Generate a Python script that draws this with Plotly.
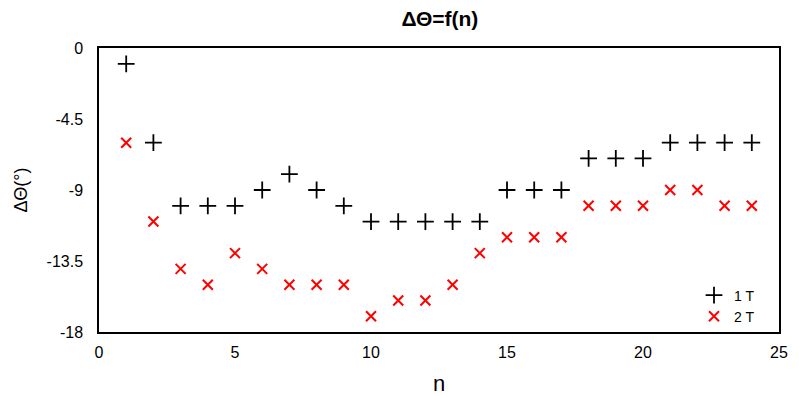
import plotly.graph_objects as go

n = list(range(1, 25))
t1 = [-1, -6, -10, -10, -10, -9, -8, -9, -10, -11, -11, -11, -11, -11,
      -9, -9, -9, -7, -7, -7, -6, -6, -6, -6]
t2 = [-6, -11, -14, -15, -13, -14, -15, -15, -15, -17, -16, -16, -15, -13,
      -12, -12, -12, -10, -10, -10, -9, -9, -10, -10]

fig = go.Figure()
fig.add_trace(go.Scatter(
    x=n, y=t1, mode='markers', name='1 T',
    marker=dict(symbol='cross-thin', size=12, line=dict(color='black', width=1.8))
))
fig.add_trace(go.Scatter(
    x=n, y=t2, mode='markers', name='2 T',
    marker=dict(symbol='x-thin', size=10, line=dict(color='#ff0000', width=2))
))

# page body has an 8px margin, so the figure is shrunk by 8px and margins shifted
fig.update_layout(
    width=791, height=388,
    paper_bgcolor='white', plot_bgcolor='white',
    margin=dict(l=91, r=20, t=40, b=64, autoexpand=False),
    font=dict(family='Liberation Sans, Arial', size=16, color='black'),
    title=dict(text='<b>ΔΘ=f(n)</b>', x=0.546, xanchor='center',
               yref='container', y=0.972, yanchor='middle',
               font=dict(size=21), automargin=False),
    showlegend=True,
    legend=dict(x=0.875, y=0.185, xanchor='left', yanchor='top',
                bgcolor='rgba(0,0,0,0)', font=dict(size=14),
                itemwidth=30, tracegroupgap=0),
)
fig.update_xaxes(range=[0, 25], tickvals=[0, 5, 10, 15, 20, 25], automargin=False,
                 showgrid=False, zeroline=False, showline=True, mirror=True,
                 linecolor='black', linewidth=1.5, ticks='', ticklabelstandoff=5,
                 title=dict(text='n', font=dict(size=22), standoff=18))
fig.update_yaxes(range=[-18, 0], tickvals=[0, -4.5, -9, -13.5, -18], automargin=False,
                 ticktext=['0', '-4.5', '-9', '-13.5', '-18'],
                 showgrid=False, zeroline=False, showline=True, mirror=True,
                 linecolor='black', linewidth=1.5, ticks='', ticklabelstandoff=11,
                 title=dict(text='ΔΘ(°)', font=dict(size=18), standoff=14))

fig.write_html("out.html")
